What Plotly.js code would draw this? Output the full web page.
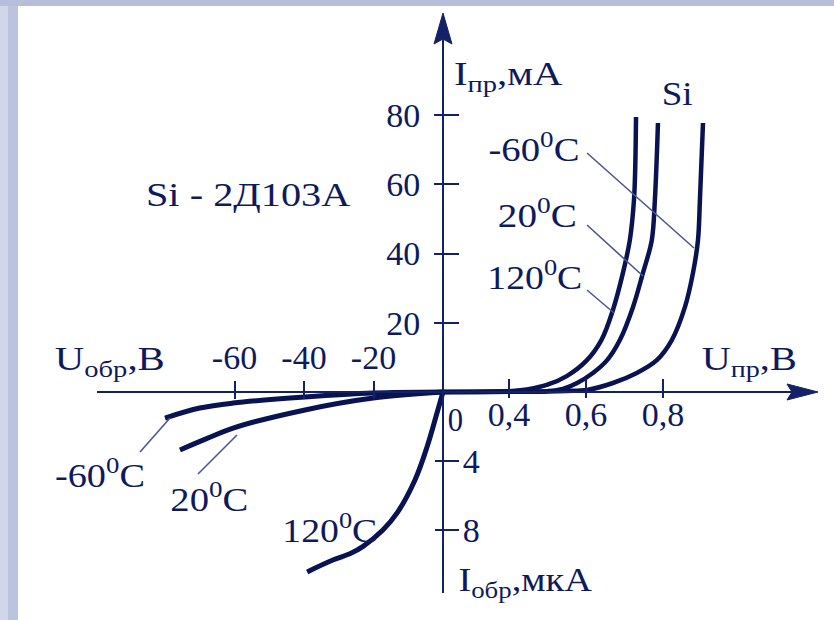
<!DOCTYPE html>
<html>
<head>
<meta charset="utf-8">
<script src="https://cdn.plot.ly/plotly-3.0.1.min.js"></script>
<style>html,body{margin:0;padding:0;background:#fff;}#chart{width:834px;height:620px;}</style>
</head>
<body>
<div id="chart"></div>
<script>
// ---------- data ----------
const REV_V_TICKS = [-60, -40, -20];
const REV_V_LABELS = ['-60', '-40', '-20'];
const FWD_V_TICKS = [0.4, 0.6, 0.8];
const FWD_V_LABELS = ['0,4', '0,6', '0,8'];
const FWD_I_TICKS = [20, 40, 60, 80];
const FWD_I_LABELS = ['20', '40', '60', '80'];
const REV_I_TICKS = [-4, -8];
const REV_I_LABELS = ['4', '8'];

// forward branch, compressed part of the voltage axis (0 ... 0.4 V), mA
const FWD_LOW_V = [0, 0.2, 0.4];
const FWD_LOW_I_120 = [0, 0.08, 0.25];
const FWD_LOW_I_20 = [0, 0.03, 0.08];
const FWD_LOW_I_M60 = [0, 0.02, 0.05];

// forward branch, main part (V, mA)
const FWD_V_120 = [0.40, 0.45, 0.50, 0.55, 0.60, 0.64, 0.67, 0.696, 0.714, 0.7247, 0.728, 0.730];
const FWD_I_120 = [0.25, 0.8, 2.1, 4.6, 8.9, 15.0, 23.7, 34.4, 43.9, 55.5, 65.0, 79.4];
const FWD_V_20 = [0.40, 0.47, 0.50, 0.54, 0.577, 0.618, 0.655, 0.688, 0.722, 0.748, 0.771, 0.779, 0.787];
const FWD_I_20 = [0.08, 0.15, 0.25, 0.9, 2.6, 5.5, 9.2, 15.0, 24.5, 34.4, 43.9, 55.5, 77.7];
const FWD_V_M60 = [0.40, 0.50, 0.55, 0.603, 0.670, 0.732, 0.784, 0.823, 0.857, 0.878, 0.891, 0.896, 0.904];
const FWD_I_M60 = [0.05, 0.15, 0.3, 0.6, 2.6, 5.5, 9.2, 15.0, 24.5, 34.4, 43.9, 55.5, 77.7];

// reverse branch (V, µA)
const REV_V_M60 = [-80.0, -70.0, -60.4, -39.7, -20.1, 0];
const REV_I_M60 = [-1.51, -0.93, -0.64, -0.29, -0.06, 0];
const REV_V_20 = [-75.7, -68.2, -60.4, -39.7, -20.1, 0];
const REV_I_20 = [-3.36, -2.72, -2.09, -1.04, -0.35, 0];
const REV_V_120 = [-39.1, -31.7, -26.5, -23.0, -17.3, -13.2, -8.06, -4.6, -1.73, 0];
const REV_I_120 = [-10.43, -9.74, -9.35, -8.95, -8.0, -7.01, -5.10, -3.19, -1.22, 0];

// text
const T_IFWD = 'I<sub>пр</sub>,мА';
const T_IREV = 'I<sub>обр</sub>,мкА';
const T_UFWD = 'U<sub>пр</sub>,В';
const T_UREV = 'U<sub>обр</sub>,В';
const T_SI = 'Si';
const T_DEVICE = 'Si - 2Д103А';
const T_ZERO = '0';
const T_M60 = '-60<sup>0</sup>C';
const T_20 = '20<sup>0</sup>C';
const T_120 = '120<sup>0</sup>C';

// ---------- styling / geometry ----------
const W = 834, H = 620;
const fx = p => p / W;
const fy = p => 1 - p / H;
const NAVY = '#0a1352';
const AXIS = '#132167';
const TXT = '#0e1a5c';
const LEAD = '#4a5894';
const FONT = 'Liberation Serif, Times New Roman, serif';
const FS = 34;

const curve = (x, y, xa, ya, w) => ({
  x, y, xaxis: xa, yaxis: ya, type: 'scatter', mode: 'lines',
  line: {color: NAVY, width: w, shape: 'spline', smoothing: 1},
  hoverinfo: 'skip', showlegend: false
});
const dummy = (xa, ya) => ({x: [null], y: [null], xaxis: xa, yaxis: ya, type: 'scatter', mode: 'lines', hoverinfo: 'skip', showlegend: false});

const data = [
  curve(FWD_LOW_V, FWD_LOW_I_120, 'x2', 'y', 4.5),
  curve(FWD_LOW_V, FWD_LOW_I_20, 'x2', 'y', 4.5),
  curve(FWD_LOW_V, FWD_LOW_I_M60, 'x2', 'y', 4.5),
  curve(FWD_V_120, FWD_I_120, 'x3', 'y', 4.5),
  curve(FWD_V_20, FWD_I_20, 'x3', 'y', 4.5),
  curve(FWD_V_M60, FWD_I_M60, 'x3', 'y', 4.5),
  curve(REV_V_M60, REV_I_M60, 'x', 'y2', 5),
  curve(REV_V_20, REV_I_20, 'x', 'y2', 5),
  curve(REV_V_120, REV_I_120, 'x', 'y2', 5),
  dummy('x4', 'y2'), dummy('x5', 'y'), dummy('x3', 'y3'), dummy('x', 'y4')
];

const tickFont = {family: FONT, size: FS, color: TXT};
const baseAx = {
  showgrid: false, zeroline: false, fixedrange: true,
  linecolor: AXIS, linewidth: 2, tickcolor: AXIS, tickwidth: 2,
  tickfont: tickFont, anchor: 'free'
};

const layout = {
  width: W, height: H,
  margin: {l: 0, r: 0, t: 0, b: 0, pad: 0},
  paper_bgcolor: '#ffffff', plot_bgcolor: 'rgba(0,0,0,0)',
  showlegend: false,
  xaxis: Object.assign({}, baseAx, {
    domain: [fx(97), fx(446)], range: [-99.57, 0.863], position: fy(392),
    side: 'top', showline: true, ticks: 'outside', ticklen: 10,
    tickvals: REV_V_TICKS, ticktext: REV_V_LABELS, ticklabelstandoff: -2
  }),
  xaxis4: Object.assign({}, baseAx, {
    overlaying: 'x', range: [-99.57, 0.863], position: fy(392),
    side: 'bottom', showline: false, ticks: 'outside', ticklen: 6,
    tickvals: REV_V_TICKS, showticklabels: false
  }),
  xaxis2: Object.assign({}, baseAx, {
    domain: [fx(440), fx(509)], range: [-0.0182, 0.4], position: fy(392),
    showline: true, ticks: '', showticklabels: false
  }),
  xaxis3: Object.assign({}, baseAx, {
    domain: [fx(507), fx(805)], range: [0.3948, 1.169], position: fy(392),
    side: 'bottom', showline: true, ticks: 'inside', ticklen: 12,
    tickvals: FWD_V_TICKS, ticktext: FWD_V_LABELS, ticklabelstandoff: -8
  }),
  xaxis5: Object.assign({}, baseAx, {
    overlaying: 'x3', range: [0.3948, 1.169], position: fy(392),
    side: 'bottom', showline: false, ticks: 'outside', ticklen: 5,
    tickvals: FWD_V_TICKS, showticklabels: false
  }),
  yaxis: Object.assign({}, baseAx, {
    domain: [fy(395), fy(25)], range: [-0.866, 106.0], position: fx(443),
    side: 'left', showline: true, ticks: 'outside', ticklen: 8,
    tickvals: FWD_I_TICKS, ticktext: FWD_I_LABELS, ticklabelstandoff: 7
  }),
  yaxis3: Object.assign({}, baseAx, {
    overlaying: 'y', range: [-0.866, 106.0], position: fx(443),
    side: 'right', showline: false, ticks: 'outside', ticklen: 15,
    tickvals: FWD_I_TICKS, showticklabels: false
  }),
  yaxis2: Object.assign({}, baseAx, {
    domain: [fy(593), fy(389)], range: [-11.652, 0.174], position: fx(443),
    side: 'right', showline: true, ticks: 'outside', ticklen: 15,
    tickvals: REV_I_TICKS, ticktext: REV_I_LABELS, ticklabelstandoff: -3
  }),
  yaxis4: Object.assign({}, baseAx, {
    overlaying: 'y2', range: [-11.652, 0.174], position: fx(443),
    side: 'left', showline: false, ticks: 'outside', ticklen: 8,
    tickvals: REV_I_TICKS, showticklabels: false
  }),
  shapes: [],
  annotations: []
};

// slide frame
layout.shapes.push({type: 'rect', xref: 'paper', yref: 'paper', x0: 0, x1: fx(18), y0: 0, y1: 1, fillcolor: '#bcc3df', line: {width: 0}, layer: 'below'});
layout.shapes.push({type: 'rect', xref: 'paper', yref: 'paper', x0: 0, x1: fx(8), y0: 0, y1: 1, fillcolor: '#d1d6eb', line: {width: 0}, layer: 'below'});
layout.shapes.push({type: 'rect', xref: 'paper', yref: 'paper', x0: 0, x1: 1, y0: fy(6), y1: 1, fillcolor: '#b6bedb', line: {width: 0}, layer: 'below'});

// arrow heads
const P = (x, y) => fx(x).toFixed(5) + ',' + fy(y).toFixed(5);
layout.shapes.push({type: 'path', xref: 'paper', yref: 'paper',
  path: 'M' + P(434, 44) + ' L' + P(443, 13) + ' L' + P(452, 44) + ' L' + P(443, 39) + ' Z',
  fillcolor: AXIS, line: {color: AXIS, width: 1}});
layout.shapes.push({type: 'path', xref: 'paper', yref: 'paper',
  path: 'M' + P(787, 384) + ' L' + P(818, 392) + ' L' + P(787, 400) + ' L' + P(792, 392) + ' Z',
  fillcolor: AXIS, line: {color: AXIS, width: 1}});

// leader lines
const lead = (x0, y0, x1, y1) => layout.shapes.push({type: 'line', xref: 'paper', yref: 'paper',
  x0: fx(x0), y0: fy(y0), x1: fx(x1), y1: fy(y1), line: {color: LEAD, width: 1.6}});
lead(587, 153, 694, 248);
lead(587, 225, 643, 276);
lead(587, 290, 614, 313);
lead(140, 452, 170, 418);
lead(198, 474, 237, 435);

// text labels: centre position and the width the text spans in the reference
const annWidths = [];
const ann = (text, cx, cy, width, size) => {
  layout.annotations.push({
    text, x: fx(cx), y: fy(cy), xref: 'paper', yref: 'paper', xanchor: 'center', yanchor: 'middle',
    showarrow: false, font: {family: FONT, size: size || FS, color: TXT}, borderpad: 0
  });
  annWidths.push(width);
};
ann(T_IFWD, 508, 76, 109);
ann(T_SI, 677, 93, 31);
ann(T_M60, 534, 147, 91);
ann(T_20, 537, 213, 79);
ann(T_120, 535, 275, 95);
ann(T_UFWD, 749, 361, 95);
ann(T_UREV, 110, 361, 110);
ann(T_DEVICE, 249, 195, 205);
ann(T_ZERO, 455, 420, 15);
ann(T_M60, 100, 473, 90);
ann(T_20, 209, 497, 78);
ann(T_120, 330, 528, 95);
ann(T_IREV, 525, 582, 134);

Plotly.newPlot('chart', data, layout, {displayModeBar: false, staticPlot: true}).then(gd => {
  // the reference lettering is set a little wider than the font: stretch each label horizontally
  gd.querySelectorAll('.annotation').forEach(g => {
    const i = +g.getAttribute('data-index');
    const t = g.querySelector('.annotation-text');
    if (!t || !annWidths[i]) return;
    const b = t.getBBox();
    if (!b.width) return;
    const s = Math.max(0.9, Math.min(1.4, annWidths[i] / b.width));
    const cx = b.x + b.width / 2;
    t.setAttribute('transform', 'translate(' + cx + ',0) scale(' + s.toFixed(3) + ',1) translate(' + (-cx) + ',0)');
  });
});
</script>
</body>
</html>
